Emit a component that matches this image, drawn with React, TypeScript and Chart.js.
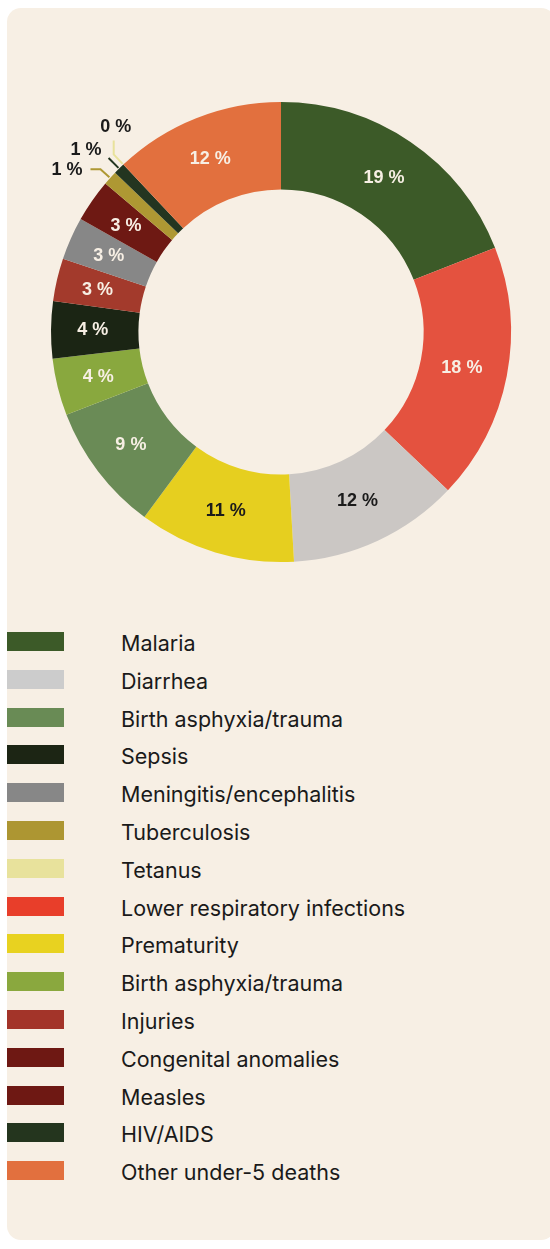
import React, { useEffect, useRef } from "react";
import { Chart, registerables } from "chart.js";

Chart.register(...registerables);

// Slice order (clockwise from top)
const categories = [
  "Malaria",
  "Lower respiratory infections",
  "Diarrhea",
  "Prematurity",
  "Birth asphyxia/trauma",
  "Birth asphyxia/trauma ",
  "Sepsis",
  "Injuries",
  "Meningitis/encephalitis",
  "Congenital anomalies",
  "Tuberculosis",
  "HIV/AIDS",
  "Tetanus",
  "Other under-5 deaths",
];
const values = [19, 18, 12, 11, 9, 4, 4, 3, 3, 3, 1, 0.8, 0, 12];
const valueLabels = ["19 %", "18 %", "12 %", "11 %", "9 %", "4 %", "4 %", "3 %", "3 %", "3 %", "1 %", "1 %", "0 %", "12 %"];
const sliceColors = [
  "#3c5a28",
  "#e4523f",
  "#cbc7c4",
  "#e6cf1f",
  "#6a8b56",
  "#89a83e",
  "#1b2514",
  "#a33a2c",
  "#878787",
  "#6e1913",
  "#ae9833",
  "#233520",
  "#e8e29b",
  "#e2703e",
];
const darkText = [false, false, true, true, false, false, false, false, false, false, true, true, true, false];

// Legend (as in the reference order)
const legendLabels = [
  "Malaria",
  "Diarrhea",
  "Birth asphyxia/trauma",
  "Sepsis",
  "Meningitis/encephalitis",
  "Tuberculosis",
  "Tetanus",
  "Lower respiratory infections",
  "Prematurity",
  "Birth asphyxia/trauma",
  "Injuries",
  "Congenital anomalies",
  "Measles",
  "HIV/AIDS",
  "Other under-5 deaths",
];
const legendColors = [
  "#3c5a28",
  "#cccccc",
  "#698b55",
  "#1c2514",
  "#878787",
  "#ad9632",
  "#e8e29c",
  "#e83e2a",
  "#e8d220",
  "#8aa83e",
  "#a33429",
  "#6e1813",
  "#6e1813",
  "#24351e",
  "#e2703e",
];

const CREAM = "#f7efe4";
const DARK = "#1b1b1b";

// Callout settings for thin slices (by slice index)
const callouts: Record<number, { radial: number; sx: number; sy: number; tx: number; ty: number; align: CanvasTextAlign }> = {
  10: { radial: 12, sx: -10, sy: 0, tx: -8, ty: 1, align: "right" },
  11: { radial: 14, sx: 0, sy: 0, tx: -7, ty: -8, align: "right" },
  12: { radial: 13, sx: 0, sy: -14, tx: 2, ty: -13, align: "center" },
};

const labelPlugin = {
  id: "sliceLabels",
  afterDatasetsDraw(chart: any) {
    const ctx = chart.ctx;
    const meta = chart.getDatasetMeta(0);
    ctx.save();
    ctx.font = "bold 18px 'Liberation Sans', Arial, sans-serif";
    ctx.textBaseline = "middle";
    meta.data.forEach((arc: any, i: number) => {
      const p = arc.getProps(["x", "y", "startAngle", "endAngle", "innerRadius", "outerRadius"], true);
      const mid = (p.startAngle + p.endAngle) / 2;
      const c = callouts[i];
      if (c) {
        const r0 = p.outerRadius + 1;
        const x0 = p.x + Math.cos(mid) * r0;
        const y0 = p.y + Math.sin(mid) * r0;
        const x1 = p.x + Math.cos(mid) * (r0 + c.radial);
        const y1 = p.y + Math.sin(mid) * (r0 + c.radial);
        const x2 = x1 + c.sx;
        const y2 = y1 + c.sy;
        ctx.strokeStyle = sliceColors[i];
        ctx.lineWidth = 2;
        ctx.beginPath();
        ctx.moveTo(x0, y0);
        ctx.lineTo(x1, y1);
        ctx.lineTo(x2, y2);
        ctx.stroke();
        ctx.fillStyle = DARK;
        ctx.textAlign = c.align;
        ctx.fillText(valueLabels[i], x2 + c.tx, y2 + c.ty);
      } else {
        const r = (p.innerRadius + p.outerRadius) / 2;
        ctx.fillStyle = darkText[i] ? DARK : CREAM;
        ctx.textAlign = "center";
        ctx.fillText(valueLabels[i], p.x + Math.cos(mid) * r - 2, p.y + Math.sin(mid) * r);
      }
    });
    ctx.restore();
  },
};

export default function App() {
  const ref = useRef<HTMLCanvasElement | null>(null);
  useEffect(() => {
    document.documentElement.style.overflow = "hidden";
    document.body.style.overflow = "hidden";
    if (!ref.current) return;
    const chart = new Chart(ref.current, {
      type: "doughnut",
      data: {
        labels: categories,
        datasets: [
          {
            data: values,
            backgroundColor: sliceColors,
            borderWidth: 0,
          },
        ],
      },
      options: {
        animation: false,
        responsive: false,
        maintainAspectRatio: false,
        cutout: "62%",
        layout: { padding: { top: 94, bottom: 26, left: 0, right: 0 } },
        plugins: {
          legend: { display: false },
          tooltip: { enabled: false },
        },
      },
      plugins: [labelPlugin],
    });
    return () => chart.destroy();
  }, []);

  return (
    <div
      style={{
        position: "absolute",
        left: 7,
        top: 8,
        width: 548,
        height: 1232,
        background: CREAM,
        borderRadius: 14,
      }}
    >
      <canvas
        ref={ref}
        width={548}
        height={580}
        style={{ position: "absolute", left: 0, top: 0, width: 548, height: 580 }}
      />
      {legendLabels.map((lab, i) => (
        <div
          key={i}
          style={{
            position: "absolute",
            left: 0,
            top: 624 + i * 37.8,
            height: 19,
            width: 540,
          }}
        >
          <div
            style={{
              position: "absolute",
              left: 0,
              top: 0,
              width: 57,
              height: 19,
              background: legendColors[i],
            }}
          />
          <div
            style={{
              position: "absolute",
              left: 114,
              top: 2,
              height: 19,
              lineHeight: "19px",
              fontFamily: "Inter, sans-serif",
              fontSize: 21.5,
              color: "#1a1a1a",
              whiteSpace: "nowrap",
            }}
          >
            {lab}
          </div>
        </div>
      ))}
    </div>
  );
}
